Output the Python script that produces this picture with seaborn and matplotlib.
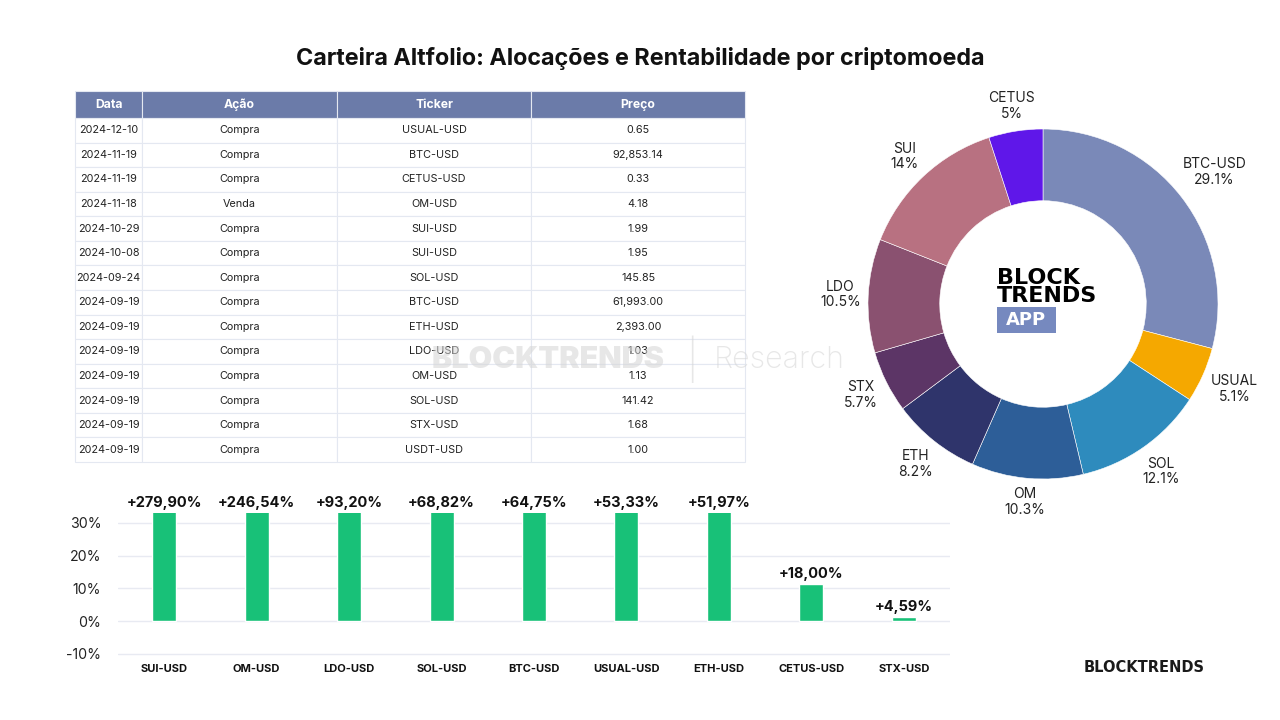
import matplotlib
matplotlib.use("Agg")
import matplotlib.pyplot as plt
from matplotlib.patches import Rectangle
import numpy as np
import pandas as pd
import seaborn as sns

# --- table data (transactions) ---
datas = ['2024-12-10', '2024-11-19', '2024-11-19', '2024-11-18', '2024-10-29', '2024-10-08', '2024-09-24',
         '2024-09-19', '2024-09-19', '2024-09-19', '2024-09-19', '2024-09-19', '2024-09-19', '2024-09-19']
acoes = ['Compra', 'Compra', 'Compra', 'Venda', 'Compra', 'Compra', 'Compra',
         'Compra', 'Compra', 'Compra', 'Compra', 'Compra', 'Compra', 'Compra']
tickers = ['USUAL-USD', 'BTC-USD', 'CETUS-USD', 'OM-USD', 'SUI-USD', 'SUI-USD', 'SOL-USD',
           'BTC-USD', 'ETH-USD', 'LDO-USD', 'OM-USD', 'SOL-USD', 'STX-USD', 'USDT-USD']
precos = [0.65, 92853.14, 0.33, 4.18, 1.99, 1.95, 145.85,
          61993.00, 2393.00, 1.03, 1.13, 141.42, 1.68, 1.00]
col_names = ['Data', 'Ação', 'Ticker', 'Preço']

# --- allocation (donut) ---
aloc_nomes = ['BTC-USD', 'USUAL', 'SOL', 'OM', 'ETH', 'STX', 'LDO', 'SUI', 'CETUS']
aloc_pct = [29.1, 5.1, 12.1, 10.3, 8.2, 5.7, 10.5, 14.0, 5.0]
aloc_cores = ['#7a89b8', '#f5a800', '#2e8bbd', '#2d5e98', '#2f346b', '#5c3566', '#8a5170', '#b87181', '#5f17e9']

# --- rentabilidade (bars) ---
rent_tickers = ['SUI-USD', 'OM-USD', 'LDO-USD', 'SOL-USD', 'BTC-USD', 'USUAL-USD', 'ETH-USD', 'CETUS-USD', 'STX-USD']
rent_pct = [279.90, 246.54, 93.20, 68.82, 64.75, 53.33, 51.97, 18.00, 4.59]
# bar heights as drawn in the original (the last two do not match their labels there)
rent_barra = [279.90, 246.54, 93.20, 68.82, 64.75, 53.33, 51.97, 11.3, 1.2]

sns.set_theme(style='white')
plt.rcParams['font.family'] = ['Inter', 'DejaVu Sans']

fig = plt.figure(figsize=(12.8, 7.2), dpi=100)
fig.patch.set_facecolor('white')

fig.text(0.5, 0.919, 'Carteira Altfolio: Alocações e Rentabilidade por criptomoeda',
         ha='center', va='center', fontsize=16.8, fontweight='bold', color='#111111')

# ---------------- table ----------------
ax_t = fig.add_axes([75 / 1280, 1 - 462 / 720, 670 / 1280, 371 / 720])
ax_t.axis('off')
rows = [[d, a, t, f'{p:,.2f}'] for d, a, t, p in zip(datas, acoes, tickers, precos)]
widths = np.array([67, 195, 194, 214], dtype=float)
tbl = ax_t.table(cellText=rows, colLabels=col_names, cellLoc='center',
                 colWidths=list(widths / widths.sum()), bbox=[0, 0, 1, 1])
tbl.auto_set_font_size(False)
for (r, c), cell in tbl.get_celld().items():
    cell.set_edgecolor('#e4e8f1')
    cell.set_linewidth(0.8)
    if r == 0:
        cell.set_height(27 / 371)
        cell.set_facecolor('#6b7ba9')
        cell.get_text().set_color('white')
        cell.get_text().set_fontweight('bold')
        cell.get_text().set_fontsize(8.8)
    else:
        cell.set_height(24.57 / 371)
        cell.set_facecolor('white')
        cell.get_text().set_color('#222222')
        cell.get_text().set_fontsize(7.8)

# watermark
fig.text(548 / 1280, 1 - 360 / 720, 'BLOCKTRENDS', ha='center', va='center', fontsize=22,
         fontweight='black', color='#d4d4d4', alpha=0.55, zorder=10)
fig.text(692 / 1280, 1 - 359 / 720, '|', ha='center', va='center', fontsize=28,
         fontweight='light', color='#d4d4d4', alpha=0.55, zorder=10)
fig.text(779 / 1280, 1 - 360 / 720, 'Research', ha='center', va='center', fontsize=22,
         fontweight='light', color='#d4d4d4', alpha=0.55, zorder=10)

# ---------------- donut ----------------
ax_p = fig.add_axes([868 / 1280, 1 - 479 / 720, 350 / 1280, 350 / 720])
labels = [f'{n}\n{v:g}%' for n, v in zip(aloc_nomes, aloc_pct)]
wedges, texts = ax_p.pie(aloc_pct, colors=aloc_cores, startangle=90, counterclock=False,
                         labels=labels, labeldistance=1.04, radius=1.0,
                         wedgeprops=dict(width=0.41, edgecolor='white', linewidth=0.4),
                         textprops=dict(fontsize=10, color='#222222'))
ax_p.set_xlim(-1, 1)
ax_p.set_ylim(-1, 1)
ax_p.set_aspect('equal')
for t in texts:
    t.set_ha('center')
    t.set_va('center')
    t.set_linespacing(1.15)

# push each label outward so its box clears the ring
fig.canvas.draw()
renderer = fig.canvas.get_renderer()
px_per_unit = 175.0
for t, w in zip(texts, wedges):
    ang = np.deg2rad((w.theta1 + w.theta2) / 2)
    bb = t.get_window_extent(renderer)
    off = 0.5 * (bb.width * abs(np.cos(ang)) + bb.height * abs(np.sin(ang))) / px_per_unit
    x, y = t.get_position()
    t.set_position((x + off * np.cos(ang), y + off * np.sin(ang)))

ax_p.text(-0.263, 0.148, 'BLOCK', ha='left', va='center', fontsize=16, fontweight='bold',
          family='DejaVu Sans', color='black')
ax_p.text(-0.263, 0.045, 'TRENDS', ha='left', va='center', fontsize=16, fontweight='bold',
          family='DejaVu Sans', color='black')
ax_p.add_patch(Rectangle((-0.263, -0.166), 0.337, 0.149, facecolor='#7689bf', edgecolor='none'))
ax_p.text(-0.0945, -0.092, 'APP', ha='center', va='center', fontsize=13, fontweight='bold',
          family='DejaVu Sans', color='white')

# ---------------- bars ----------------
ymin, ymax = -10.5, 33
ax_b = fig.add_axes([118 / 1280, 1 - 655.6 / 720, 832 / 1280, (655.6 - 513) / 720])
df = pd.DataFrame({'ticker': rent_tickers, 'rent': rent_barra})
sns.barplot(data=df, x='ticker', y='rent', color='#18c178', width=0.26, ax=ax_b,
            saturation=1, zorder=3)
ax_b.set_ylim(ymin, ymax)
ax_b.set_yticks([-10, 0, 10, 20, 30])
ax_b.set_yticklabels([f'{v}%' for v in [-10, 0, 10, 20, 30]])
ax_b.yaxis.grid(True, color='#e8eaf2', linewidth=1)
ax_b.set_axisbelow(True)
for s in ax_b.spines.values():
    s.set_visible(False)
ax_b.set_xlabel('')
ax_b.set_ylabel('')
ax_b.tick_params(axis='y', labelsize=10.2, colors='#222222', pad=12, length=0)
ax_b.tick_params(axis='x', labelsize=8, pad=6, length=0)
for lab in ax_b.get_xticklabels():
    lab.set_fontweight('bold')
    lab.set_color('#111111')
for i, (v, h) in enumerate(zip(rent_pct, rent_barra)):
    top = min(h, ymax)
    ax_b.annotate(f'+{v:.2f}%'.replace('.', ','), (i, top), xytext=(0, 2.5),
                  textcoords='offset points', ha='center', va='bottom',
                  fontsize=10.5, fontweight='bold', color='#111111', annotation_clip=False)

fig.text(1144 / 1280, 1 - 668 / 720, 'BLOCKTRENDS', ha='center', va='center', fontsize=10.5,
         fontweight='bold', family='DejaVu Sans', color='#1a1a1a')

fig.savefig('out.png', dpi=100)
